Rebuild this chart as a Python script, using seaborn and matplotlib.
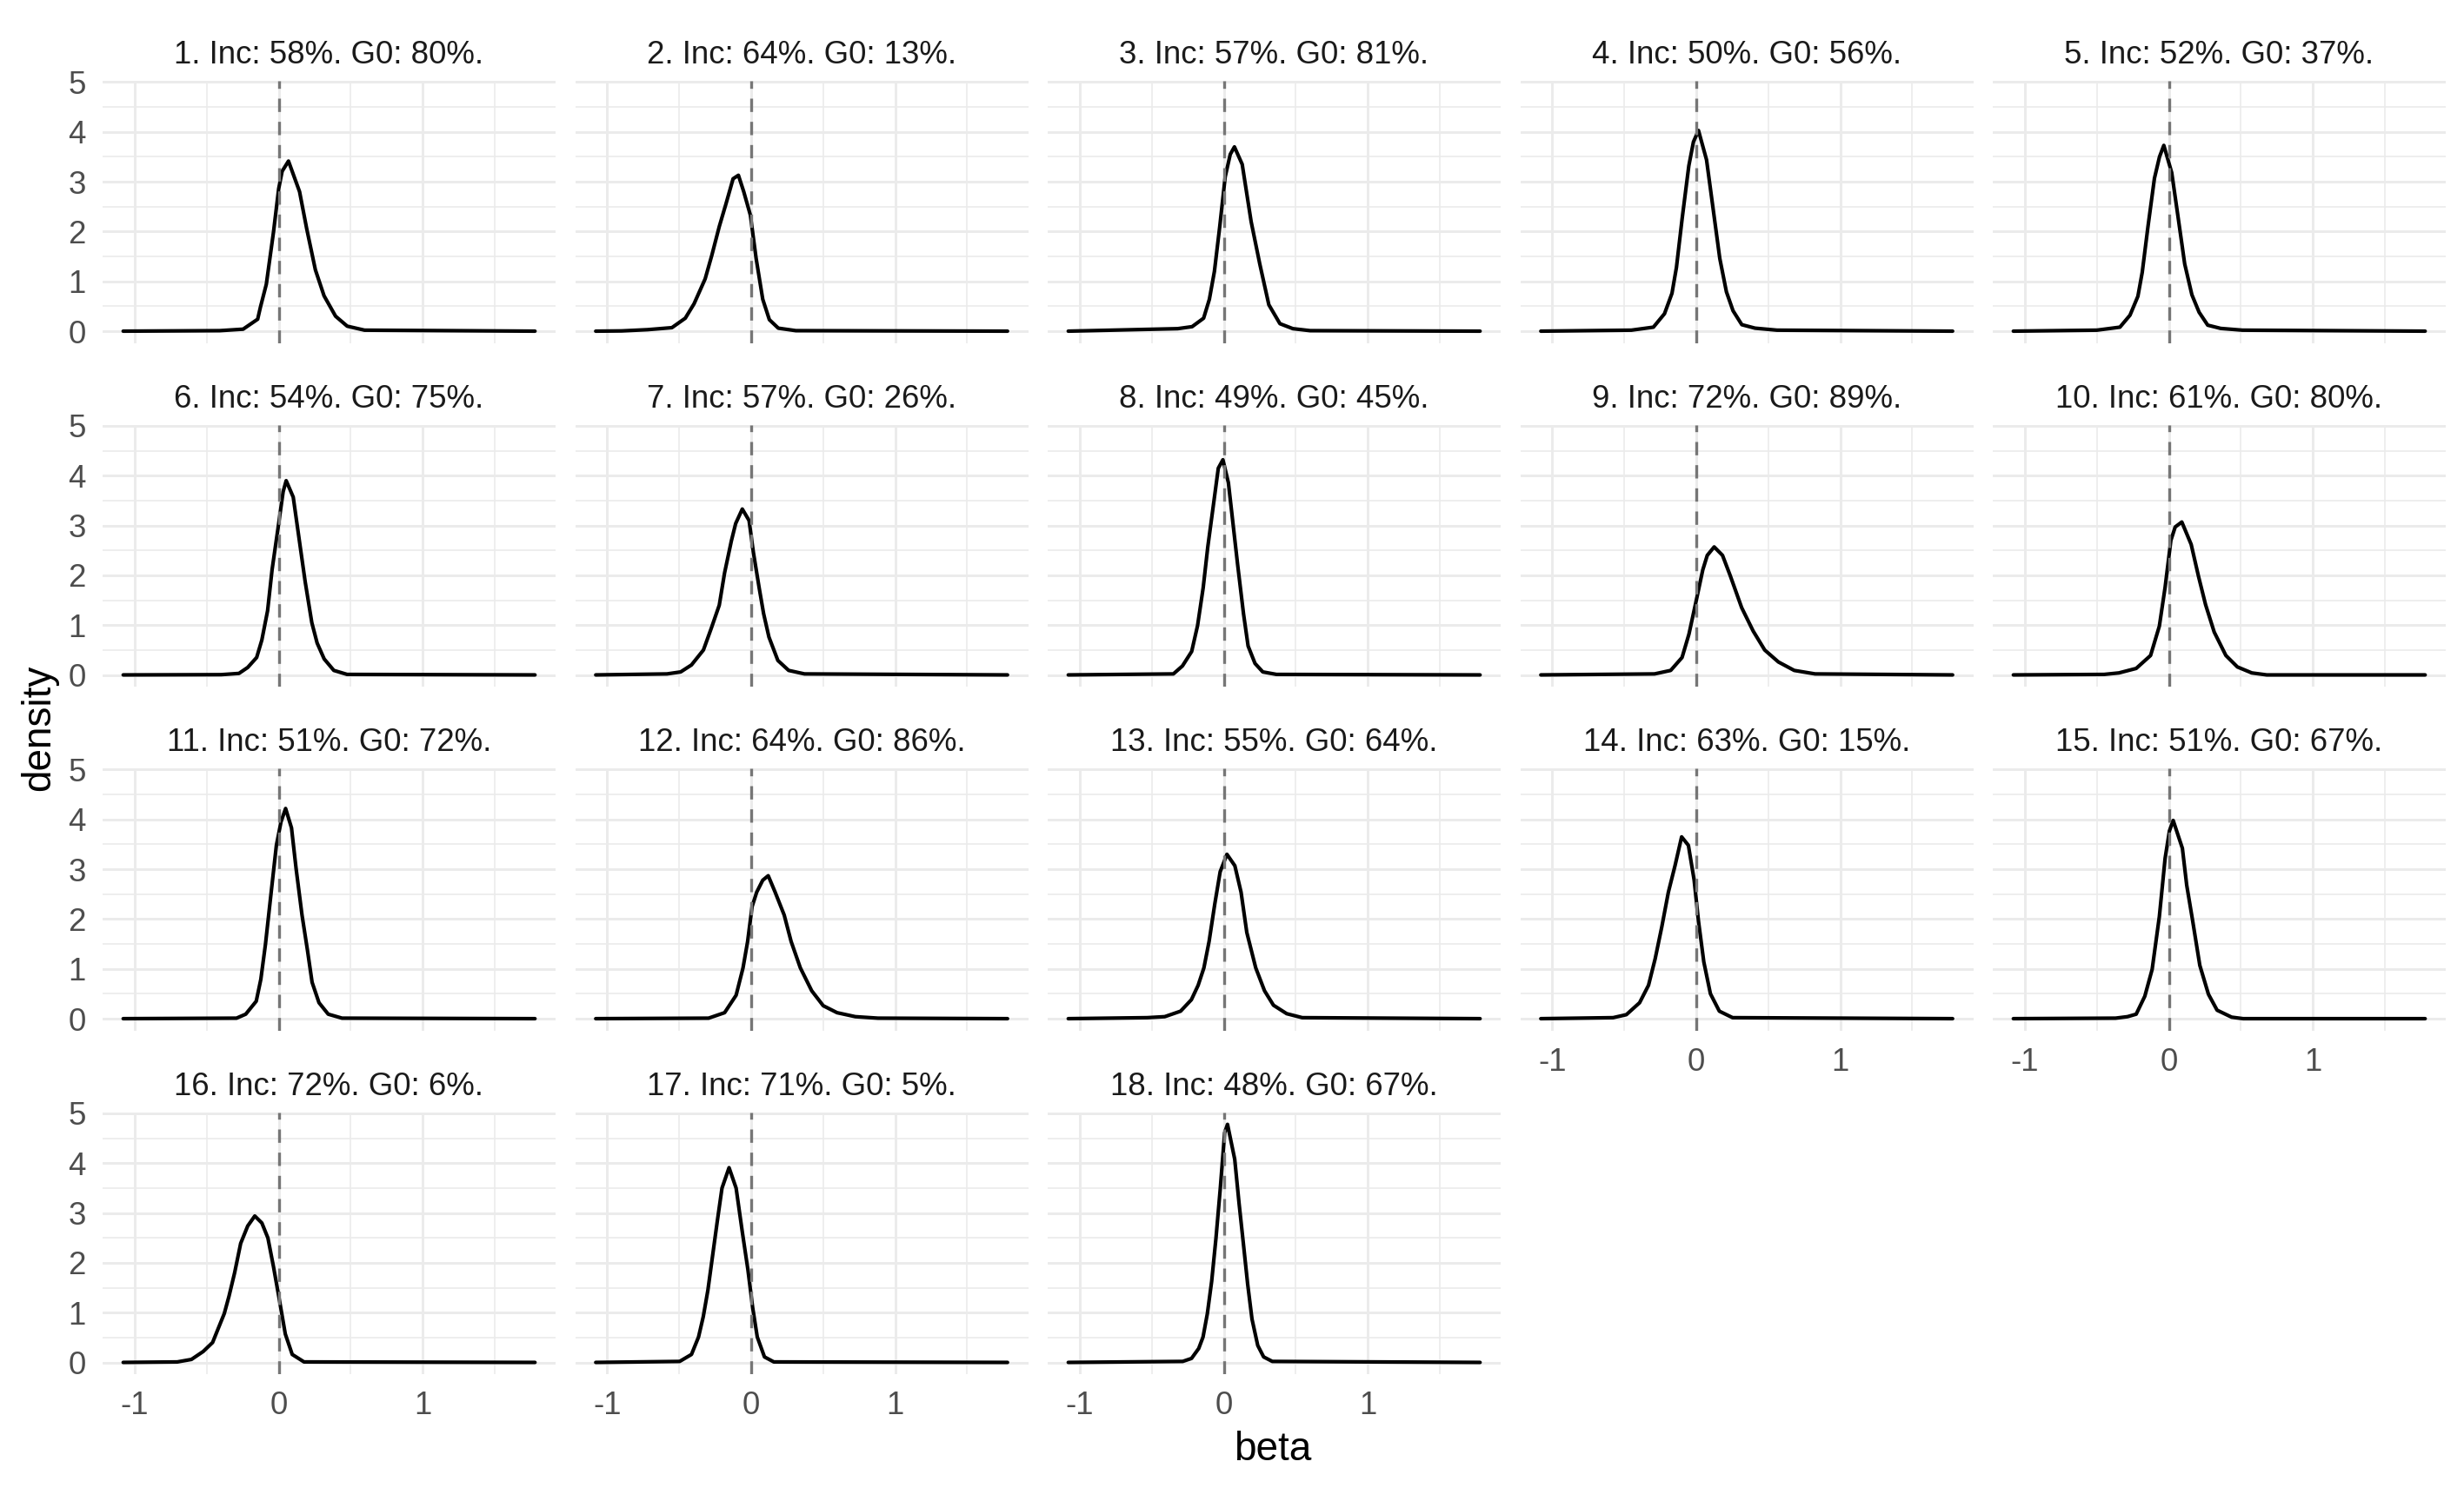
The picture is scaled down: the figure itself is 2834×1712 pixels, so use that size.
import pandas as pd
import seaborn as sns
import matplotlib.pyplot as plt

# strip titles
titles = [
    "1. Inc: 58%. G0: 80%.", "2. Inc: 64%. G0: 13%.", "3. Inc: 57%. G0: 81%.",
    "4. Inc: 50%. G0: 56%.", "5. Inc: 52%. G0: 37%.", "6. Inc: 54%. G0: 75%.",
    "7. Inc: 57%. G0: 26%.", "8. Inc: 49%. G0: 45%.", "9. Inc: 72%. G0: 89%.",
    "10. Inc: 61%. G0: 80%.", "11. Inc: 51%. G0: 72%.", "12. Inc: 64%. G0: 86%.",
    "13. Inc: 55%. G0: 64%.", "14. Inc: 63%. G0: 15%.", "15. Inc: 51%. G0: 67%.",
    "16. Inc: 72%. G0: 6%.", "17. Inc: 71%. G0: 5%.", "18. Inc: 48%. G0: 67%.",
]

# range of beta over which all densities are drawn
beta_limits = [-1.08, 1.78]

# density curves (beta, density)
beta_01 = [-0.41, -0.247, -0.146, -0.127, -0.086, -0.036, 0.0, 0.024, 0.068, 0.145, 0.195, 0.255, 0.315, 0.395, 0.476, 0.596]
dens_01 = [0.01, 0.04, 0.24, 0.48, 0.94, 1.99, 2.86, 3.21, 3.415, 2.80, 2.05, 1.23, 0.71, 0.30, 0.10, 0.02]

beta_02 = [-0.9, -0.72, -0.551, -0.458, -0.397, -0.32, -0.274, -0.222, -0.175, -0.126, -0.089, -0.052, -0.006, 0.034, 0.08, 0.126, 0.188, 0.31]
dens_02 = [0.005, 0.03, 0.07, 0.26, 0.55, 1.05, 1.52, 2.10, 2.56, 3.06, 3.13, 2.80, 2.33, 1.46, 0.64, 0.23, 0.06, 0.01]

beta_03 = [-0.32, -0.22, -0.14, -0.10, -0.065, -0.028, 0.01, 0.045, 0.074, 0.128, 0.19, 0.25, 0.313, 0.39, 0.48, 0.6]
dens_03 = [0.05, 0.09, 0.26, 0.64, 1.2, 2.1, 3.1, 3.55, 3.70, 3.35, 2.2, 1.35, 0.53, 0.15, 0.05, 0.01]

beta_04 = [-0.451, -0.298, -0.221, -0.169, -0.138, -0.098, -0.052, -0.02, 0.015, 0.071, 0.117, 0.163, 0.209, 0.255, 0.316, 0.408, 0.56]
dens_04 = [0.02, 0.08, 0.35, 0.76, 1.28, 2.27, 3.32, 3.8, 4.03, 3.44, 2.45, 1.46, 0.79, 0.41, 0.13, 0.06, 0.02]

beta_05 = [-0.50, -0.34, -0.27, -0.215, -0.185, -0.145, -0.10, -0.065, -0.035, 0.02, 0.065, 0.11, 0.16, 0.21, 0.27, 0.36, 0.51]
dens_05 = [0.02, 0.08, 0.32, 0.70, 1.18, 2.10, 3.07, 3.5, 3.73, 3.18, 2.27, 1.35, 0.73, 0.38, 0.12, 0.055, 0.02]

beta_06 = [-0.4, -0.276, -0.215, -0.153, -0.117, -0.077, -0.046, 0.0, 0.031, 0.052, 0.101, 0.138, 0.184, 0.23, 0.267, 0.316, 0.383, 0.475]
dens_06 = [0.005, 0.03, 0.15, 0.35, 0.70, 1.29, 2.11, 3.04, 3.68, 3.90, 3.57, 2.81, 1.87, 1.05, 0.64, 0.32, 0.09, 0.01]

beta_07 = [-0.585, -0.49, -0.415, -0.332, -0.277, -0.222, -0.185, -0.138, -0.108, -0.062, -0.015, 0.015, 0.055, 0.086, 0.123, 0.185, 0.26, 0.37]
dens_07 = [0.02, 0.06, 0.20, 0.50, 0.94, 1.40, 2.05, 2.69, 3.04, 3.33, 3.10, 2.46, 1.75, 1.23, 0.76, 0.29, 0.09, 0.02]

beta_08 = [-0.35, -0.287, -0.223, -0.182, -0.143, -0.111, -0.073, -0.038, -0.006, 0.032, 0.064, 0.096, 0.137, 0.169, 0.217, 0.271, 0.366]
dens_08 = [0.02, 0.18, 0.47, 0.99, 1.75, 2.57, 3.39, 4.15, 4.32, 3.86, 3.04, 2.22, 1.23, 0.58, 0.23, 0.06, 0.01]

beta_09 = [-0.29, -0.178, -0.099, -0.051, -0.003, 0.045, 0.076, 0.124, 0.182, 0.236, 0.315, 0.395, 0.475, 0.57, 0.68, 0.825]
dens_09 = [0.02, 0.09, 0.35, 0.82, 1.46, 2.11, 2.40, 2.57, 2.40, 1.99, 1.35, 0.88, 0.50, 0.26, 0.09, 0.02]

beta_10 = [-0.45, -0.347, -0.227, -0.127, -0.066, -0.026, 0.014, 0.044, 0.09, 0.155, 0.205, 0.255, 0.315, 0.396, 0.476, 0.576, 0.68]
dens_10 = [0.01, 0.04, 0.13, 0.39, 0.98, 1.76, 2.70, 2.97, 3.07, 2.62, 1.99, 1.41, 0.86, 0.39, 0.16, 0.04, 0.0]

beta_11 = [-0.293, -0.229, -0.156, -0.124, -0.092, -0.054, -0.016, 0.016, 0.048, 0.089, 0.121, 0.162, 0.2, 0.232, 0.28, 0.344, 0.44]
dens_11 = [0.01, 0.09, 0.35, 0.79, 1.49, 2.49, 3.48, 3.95, 4.22, 3.83, 3.01, 2.08, 1.37, 0.73, 0.32, 0.09, 0.01]

beta_12 = [-0.296, -0.185, -0.105, -0.057, -0.025, 0.006, 0.038, 0.08, 0.118, 0.166, 0.229, 0.277, 0.341, 0.42, 0.5, 0.596, 0.723, 0.88]
dens_12 = [0.01, 0.12, 0.47, 1.02, 1.55, 2.25, 2.54, 2.78, 2.87, 2.54, 2.08, 1.55, 1.02, 0.56, 0.26, 0.12, 0.04, 0.01]

beta_13 = [-0.532, -0.41, -0.30, -0.225, -0.178, -0.138, -0.102, -0.062, -0.025, 0.022, 0.077, 0.12, 0.16, 0.222, 0.283, 0.345, 0.437, 0.545]
dens_13 = [0.02, 0.04, 0.15, 0.38, 0.67, 1.02, 1.55, 2.31, 2.95, 3.30, 3.07, 2.54, 1.73, 1.02, 0.56, 0.27, 0.10, 0.02]

beta_14 = [-0.578, -0.486, -0.394, -0.332, -0.286, -0.24, -0.194, -0.148, -0.102, -0.055, -0.015, 0.015, 0.052, 0.098, 0.16, 0.252]
dens_14 = [0.02, 0.08, 0.32, 0.67, 1.20, 1.84, 2.54, 3.07, 3.65, 3.48, 2.78, 1.96, 1.14, 0.50, 0.15, 0.02]

beta_15 = [-0.37, -0.287, -0.227, -0.167, -0.116, -0.066, -0.026, 0.004, 0.03, 0.094, 0.124, 0.165, 0.215, 0.275, 0.335, 0.436, 0.516]
dens_15 = [0.01, 0.04, 0.09, 0.45, 0.99, 2.05, 3.22, 3.77, 3.98, 3.42, 2.68, 1.97, 1.07, 0.49, 0.17, 0.03, 0.0]

beta_16 = [-0.704, -0.606, -0.524, -0.459, -0.427, -0.378, -0.345, -0.306, -0.264, -0.215, -0.166, -0.117, -0.075, -0.036, 0.007, 0.046, 0.094, 0.176]
dens_16 = [0.01, 0.06, 0.22, 0.40, 0.63, 0.98, 1.33, 1.80, 2.39, 2.74, 2.94, 2.80, 2.50, 1.92, 1.22, 0.57, 0.16, 0.01]

beta_17 = [-0.497, -0.415, -0.366, -0.333, -0.301, -0.268, -0.235, -0.203, -0.154, -0.105, -0.062, -0.023, 0.01, 0.042, 0.092, 0.157]
dens_17 = [0.02, 0.16, 0.51, 0.92, 1.45, 2.15, 2.85, 3.50, 3.91, 3.50, 2.62, 1.86, 1.10, 0.51, 0.11, 0.01]

beta_18 = [-0.285, -0.224, -0.174, -0.144, -0.114, -0.084, -0.054, -0.024, 0.006, 0.026, 0.076, 0.106, 0.136, 0.166, 0.196, 0.236, 0.277, 0.337]
dens_18 = [0.02, 0.08, 0.28, 0.51, 0.98, 1.63, 2.50, 3.50, 4.61, 4.78, 4.08, 3.20, 2.39, 1.57, 0.87, 0.34, 0.11, 0.02]

x_ticks = [-1, 0, 1]
x_tick_labels = ["-1", "0", "1"]
y_ticks = [0, 1, 2, 3, 4, 5]

curves = [
    (beta_01, dens_01), (beta_02, dens_02), (beta_03, dens_03), (beta_04, dens_04),
    (beta_05, dens_05), (beta_06, dens_06), (beta_07, dens_07), (beta_08, dens_08),
    (beta_09, dens_09), (beta_10, dens_10), (beta_11, dens_11), (beta_12, dens_12),
    (beta_13, dens_13), (beta_14, dens_14), (beta_15, dens_15), (beta_16, dens_16),
    (beta_17, dens_17), (beta_18, dens_18),
]

frames = []
for i, (b, d) in enumerate(curves):
    frames.append(pd.DataFrame({
        "panel": i,
        "beta": [beta_limits[0]] + b + [beta_limits[1]],
        "density": [0.0] + d + [0.0],
    }))
df = pd.concat(frames, ignore_index=True)

sns.set_theme(style="white")
plt.rcParams["font.family"] = ["Liberation Sans", "DejaVu Sans"]

W, H = 2834, 1712
fig = plt.figure(figsize=(W / 300, H / 300), dpi=300)
fig.patch.set_facecolor("white")

# panel geometry in pixels (ggplot facet_wrap, 5 columns)
p_left, p_w, p_pitch_x = 118, 521, 543.5
p_top, p_h, p_pitch_y = 93.4, 301.3, 395.5

span = beta_limits[1] - beta_limits[0]
xlim = (beta_limits[0] - 0.05 * span, beta_limits[1] + 0.05 * span)
ymax = max(max(d) for _, d in curves)
ylim = (-0.05 * ymax, 1.05 * ymax)

grid_col = "#EBEBEB"

for i in range(len(curves)):
    r, c = divmod(i, 5)
    left = p_left + p_pitch_x * c
    top = p_top + p_pitch_y * r
    ax = fig.add_axes([left / W, 1 - (top + p_h) / H, p_w / W, p_h / H])

    sub = df[df["panel"] == i]
    sns.lineplot(data=sub, x="beta", y="density", ax=ax, color="black",
                 linewidth=1.0, estimator=None, sort=False)
    ax.axvline(0, color="#767676", linewidth=0.8, linestyle=(0, (4.6, 3.4)))

    ax.set_xlim(xlim)
    ax.set_ylim(ylim)
    ax.set_xticks(x_ticks)
    ax.set_xticks([-0.5, 0.5, 1.5], minor=True)
    ax.set_yticks(y_ticks)
    ax.set_yticks([0.5, 1.5, 2.5, 3.5, 4.5], minor=True)
    ax.grid(which="major", color=grid_col, linewidth=0.7)
    ax.grid(which="minor", color=grid_col, linewidth=0.4)
    ax.set_axisbelow(True)
    for s in ax.spines.values():
        s.set_visible(False)
    ax.tick_params(which="both", length=0, pad=4.6, labelsize=8.8,
                   labelcolor="#4D4D4D")

    if i >= 13:
        ax.set_xticklabels(x_tick_labels)
    else:
        ax.set_xticklabels([])
    if c == 0:
        ax.set_yticklabels([str(v) for v in y_ticks])
    else:
        ax.set_yticklabels([])

    ax.set_xlabel("")
    ax.set_ylabel("")
    ax.set_title(titles[i], fontsize=8.8, color="#1A1A1A", pad=4.8)

fig.text(1464 / W, 1 - 1668 / H, "beta", ha="center", va="center",
         fontsize=11, color="black")
fig.text(45 / W, 1 - 837 / H, "density", ha="center", va="center",
         rotation=90, fontsize=11, color="black")

fig.savefig("out.png", dpi=300, facecolor="white")
